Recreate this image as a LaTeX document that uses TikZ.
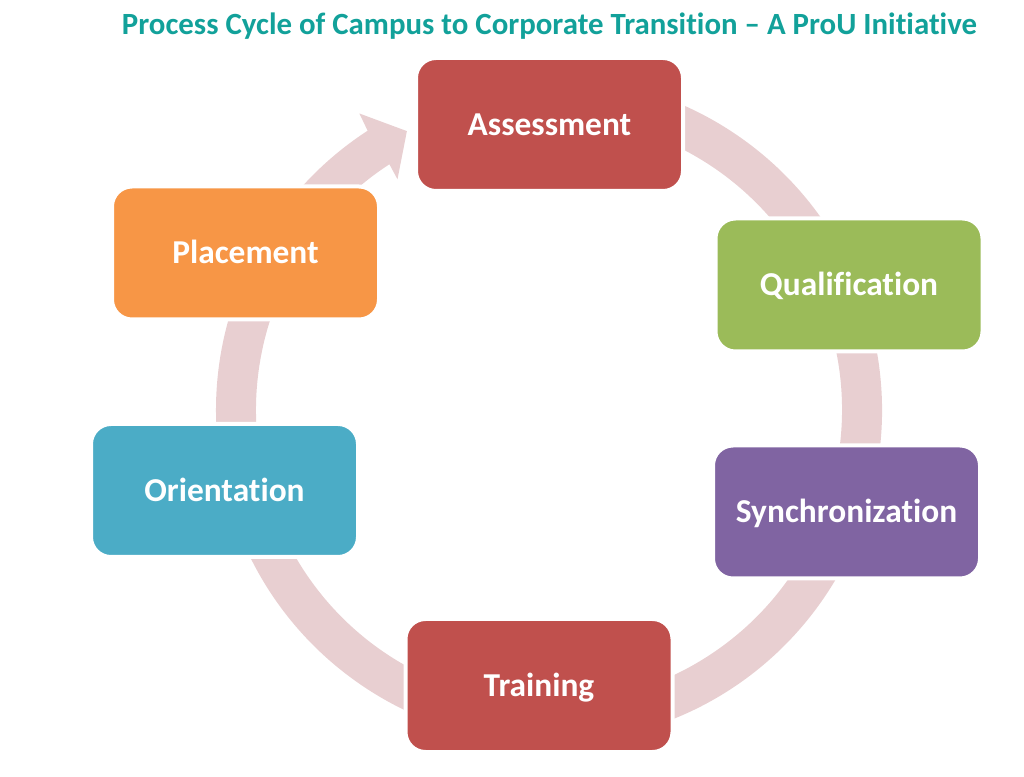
\documentclass[tikz,border=0pt]{standalone}
\usepackage{fontspec}
\setmainfont[Ligatures={NoCommon}]{Carlito}
\definecolor{ringc}{HTML}{E8CFD1}
\definecolor{titlec}{HTML}{12A19A}
\definecolor{redc}{HTML}{C0504D}
\definecolor{greenc}{HTML}{9BBB59}
\definecolor{purplec}{HTML}{8064A2}
\definecolor{bluec}{HTML}{4BACC6}
\definecolor{orangec}{HTML}{F79646}
\begin{document}
\begin{tikzpicture}[x=1pt,y=1pt,
  boxst/.style={rectangle, rounded corners=20pt, minimum width=267pt, minimum height=133pt,
    inner sep=0pt, draw=white, line width=4pt, text=white, text height=28pt, text depth=6pt,
    font=\bfseries\fontsize{33.4}{40}\selectfont}]
\useasboundingbox (0,0) rectangle (1024,776);
% ring with arrowhead
\begin{scope}[shift={(549,366)}]
\fill[ringc] (100:333) arc[start angle=100,end angle=-237,radius=333]
  -- (122.6:352) -- (117:313) -- (123.3:276) -- (123:293)
  arc[start angle=-237,end angle=100,radius=293] -- cycle;
\end{scope}
% boxes
\node[boxst, fill=redc]    (a) at (549.5,651.5) {Assessment};
\node[boxst, fill=greenc]  (q) at (849,491)     {Qualification};
\node[boxst, fill=purplec] (s) at (846.5,264)   {Synchronization};
\node[boxst, fill=redc]    (t) at (539,90.5)    {Training};
\node[boxst, fill=bluec]   (o) at (224.5,285.5) {Orientation};
\node[boxst, fill=orangec] (p) at (245.5,523)   {Placement};
% title
\node[anchor=base, inner sep=0pt, text=titlec, font=\bfseries] (title) at (549.5,741)
  {\resizebox{855pt}{!}{Process Cycle of Campus to Corporate Transition – A ProU Initiative}};
\end{tikzpicture}
\end{document}
